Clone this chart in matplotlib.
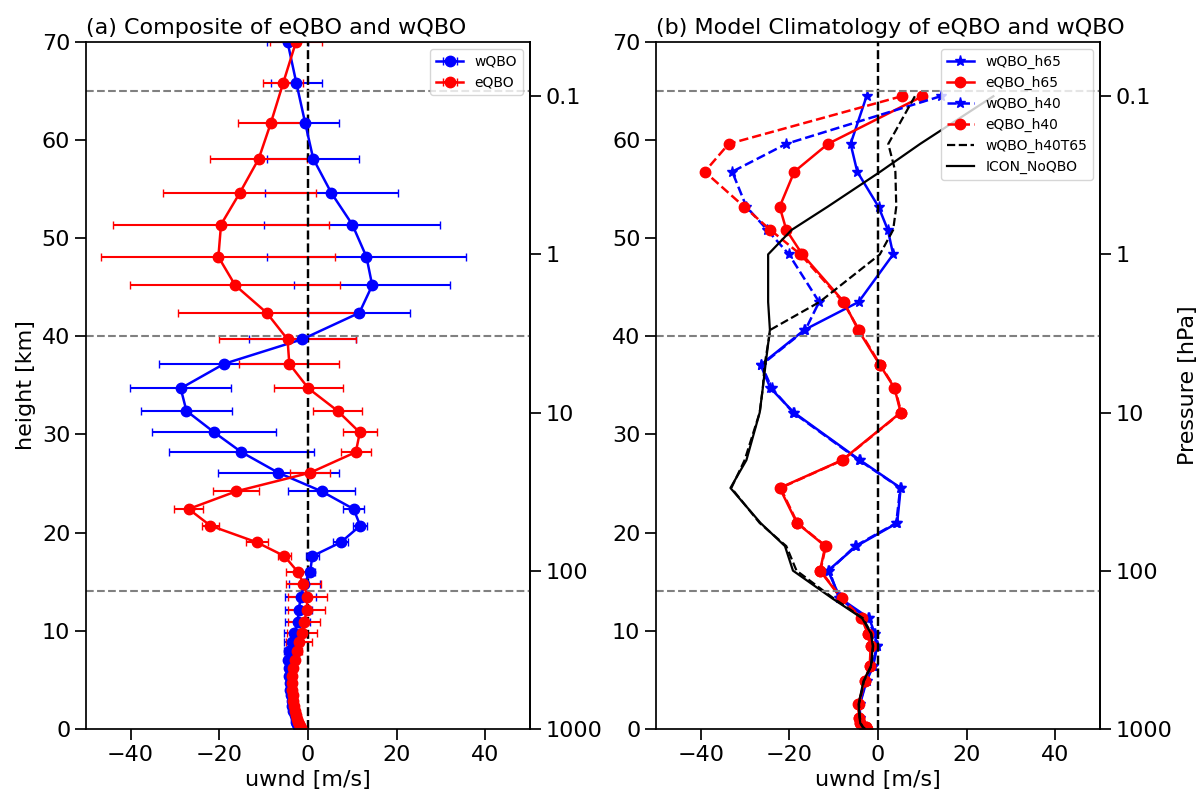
import numpy as np
import matplotlib
matplotlib.use("Agg")
import matplotlib.pyplot as plt

# scale height used for the pressure axis
H = 7.0

# ---- panel (a): composite profiles on model heights ----
height_a = [70.0, 65.8, 61.7, 58.1, 54.6, 51.4, 48.1, 45.2, 42.4, 39.7,
            37.2, 34.7, 32.4, 30.2, 28.2, 26.1, 24.2, 22.4, 20.7, 19.0,
            17.6, 16.0, 14.8, 13.4, 12.1, 10.85, 9.8, 8.8, 7.97, 7.0,
            6.2, 5.4, 4.7, 4.0, 3.4, 2.8, 2.3, 1.8, 1.4, 1.0,
            0.7, 0.45, 0.25, 0.1]

wqbo = [-4.6, -2.6, -0.6, 1.2, 5.3, 10.0, 13.2, 14.5, 11.6, -1.3,
        -18.9, -28.7, -27.4, -21.1, -15.0, -6.7, 3.1, 10.3, 11.8, 7.4,
        1.0, 0.5, -0.8, -1.6, -2.1, -2.3, -3.1, -3.7, -4.2, -4.4,
        -4.3, -4.2, -4.1, -4.0, -3.9, -3.7, -3.5, -3.3, -3.0, -2.8,
        -2.6, -2.4, -2.2, -2.0]
wqbo_err = [4.7, 5.8, 7.7, 10.4, 15.0, 19.8, 22.5, 17.6, 11.5, 12.1,
            14.7, 11.4, 10.3, 14.0, 16.4, 13.6, 7.5, 2.3, 1.6, 1.7,
            1.5, 1.0, 3.5, 3.5, 3.0, 2.8, 2.2, 1.7, 1.2, 0.8,
            0.6, 0.5, 0.4, 0.4, 0.3, 0.3, 0.3, 0.3, 0.3, 0.3,
            0.3, 0.3, 0.3, 0.3]

eqbo = [-2.7, -5.6, -8.4, -11.1, -15.4, -19.6, -20.2, -16.4, -9.3, -4.6,
        -4.2, 0.1, 6.7, 11.7, 10.8, 0.5, -16.2, -26.9, -22.0, -11.5,
        -5.3, -2.3, -1.0, -0.1, -0.3, -0.8, -1.35, -2.0, -2.5, -3.0,
        -3.3, -3.5, -3.5, -3.5, -3.4, -3.3, -3.1, -2.9, -2.7, -2.4,
        -2.2, -2.0, -1.8, -1.6]
eqbo_err = [5.8, 4.5, 7.3, 10.9, 17.3, 24.3, 26.4, 23.7, 20.0, 15.5,
            11.3, 7.7, 5.6, 3.9, 3.4, 4.5, 5.2, 3.3, 1.9, 2.4,
            1.5, 2.6, 4.0, 4.4, 4.2, 3.6, 3.4, 2.9, 1.2, 0.8,
            0.6, 0.5, 0.4, 0.4, 0.3, 0.3, 0.3, 0.3, 0.3, 0.3,
            0.3, 0.3, 0.3, 0.3]

# ---- panel (b): model climatology on pressure levels ----
plev = [0.1, 0.2, 0.3, 0.5, 0.7, 1, 2, 3, 5, 7, 10, 20, 30, 50, 70,
        100, 150, 200, 250, 300, 400, 500, 700, 850, 925, 975, 1000]

wqbo_h65 = [-2.6, -6.2, -4.7, 0.1, 2.2, 3.4, -4.4, -16.6, -26.5, -24.3,
            -19.0, -4.1, 5.1, 4.3, -4.9, -11.3, -8.5, -2.0, -0.75, -0.2,
            -1.1, -2.6, -4.1, -4.1, -4.0, -3.5, -3.0]
eqbo_h65 = [10.0, -11.3, -18.9, -22.2, -20.7, -17.1, -7.7, -4.5, 0.4, 3.7,
            5.1, -8.1, -22.2, -18.3, -11.9, -13.1, -8.3, -3.75, -2.3, -1.65,
            -1.9, -3.0, -4.5, -4.3, -4.1, -2.8, -2.5]
wqbo_h40 = [14.1, -20.7, -32.9, -29.7, -25.0, -20.1, -13.3, -16.4, -26.3, -24.0,
            -19.2, -4.3, 5.0, 4.1, -5.2, -11.0, -8.8, -2.3, -0.9, -0.3,
            -1.2, -2.7, -4.2, -4.2, -4.1, -3.6, -3.1]
eqbo_h40 = [5.3, -33.7, -39.1, -30.2, -24.3, -17.5, -7.9, -4.3, 0.5, 3.8,
            5.2, -8.0, -22.0, -18.2, -11.8, -13.0, -8.2, -3.6, -2.2, -1.6,
            -1.8, -2.9, -4.4, -4.2, -4.0, -2.7, -2.4]
wqbo_h40t65 = [8.3, 2.3, 3.9, 4.1, 3.4, 0.4, -13.2, -24.3, -25.6, -26.0,
               -26.7, -30.1, -33.1, -26.7, -20.7, -18.4, -10.0, -3.4, -1.5, -1.1,
               -1.5, -3.2, -4.3, -4.1, -3.9, -3.4, -3.0]
icon_noqbo = [26.0, 9.5, 0.5, -11.4, -19.5, -24.8, -24.8, -24.4, -25.4, -26.0,
              -26.7, -29.7, -33.3, -26.5, -21.0, -19.2, -10.3, -3.6, -1.6, -1.2,
              -1.6, -3.3, -4.4, -4.2, -4.0, -3.5, -3.0]

ref_heights = [65, 40, 14]
p_ticks = [1000, 100, 10, 1, 0.1]
p_ticklabels = ["1000", "100", "10", "1", "0.1"]


def z2p(z):
    return 1000.0 * np.exp(-np.asarray(z, dtype=float) / H)


def p2z(p):
    p = np.clip(np.asarray(p, dtype=float), 1e-8, None)
    return -H * np.log(p / 1000.0)


plt.rcParams.update({
    "font.size": 16,
    "xtick.labelsize": 16,
    "ytick.labelsize": 16,
    "axes.labelsize": 16,
    "axes.titlesize": 16,
    "xtick.major.size": 8,
    "ytick.major.size": 8,
    "xtick.major.width": 1.25,
    "ytick.major.width": 1.25,
    "axes.linewidth": 1.25,
})

fig, (ax1, ax2) = plt.subplots(1, 2, figsize=(11.98, 7.93), dpi=100)
fig.subplots_adjust(left=0.072, right=0.918, bottom=0.081, top=0.947, wspace=0.286)

# (a)
ax1.errorbar(wqbo, height_a, xerr=wqbo_err, color="b", marker="o", ms=7.5,
             lw=1.8, elinewidth=1.5, capsize=3, label="wQBO")
ax1.errorbar(eqbo, height_a, xerr=eqbo_err, color="r", marker="o", ms=7.5,
             lw=1.8, elinewidth=1.5, capsize=3, label="eQBO")
ax1.set_title("(a) Composite of eQBO and wQBO", loc="left")
ax1.set_ylabel("height [km]")
ax1.legend(loc="upper right", fontsize=10)

# (b)
z_b = p2z(plev)
ax2.plot(wqbo_h65, z_b, color="b", marker="*", ms=8, lw=1.8, label="wQBO_h65")
ax2.plot(eqbo_h65, z_b, color="r", marker="o", ms=7.5, lw=1.8, label="eQBO_h65")
ax2.plot(wqbo_h40, z_b, color="b", marker="*", ms=8, lw=1.8, ls="--", label="wQBO_h40")
ax2.plot(eqbo_h40, z_b, color="r", marker="o", ms=7.5, lw=1.8, ls="--", label="eQBO_h40")
ax2.plot(wqbo_h40t65, z_b, color="k", lw=1.6, ls="--", label="wQBO_h40T65")
ax2.plot(icon_noqbo, z_b, color="k", lw=1.6, label="ICON_NoQBO")
ax2.set_title("(b) Model Climatology of eQBO and wQBO", loc="left")
ax2.legend(loc="upper right", fontsize=10)

for ax in (ax1, ax2):
    ax.axvline(0, color="k", ls="--", lw=1.75)
    for h in ref_heights:
        ax.axhline(h, color="grey", ls="--", lw=1.5)
    ax.set_xlim(-50, 50)
    ax.set_ylim(0, 70)
    ax.set_xticks([-40, -20, 0, 20, 40])
    ax.set_xlabel("uwnd [m/s]")
    sec = ax.secondary_yaxis("right", functions=(z2p, p2z))
    sec.set_yticks(p_ticks)
    sec.set_yticklabels(p_ticklabels)
    sec.minorticks_off()
    if ax is ax2:
        sec.set_ylabel("Pressure [hPa]")

fig.savefig("out.png", dpi=100)
